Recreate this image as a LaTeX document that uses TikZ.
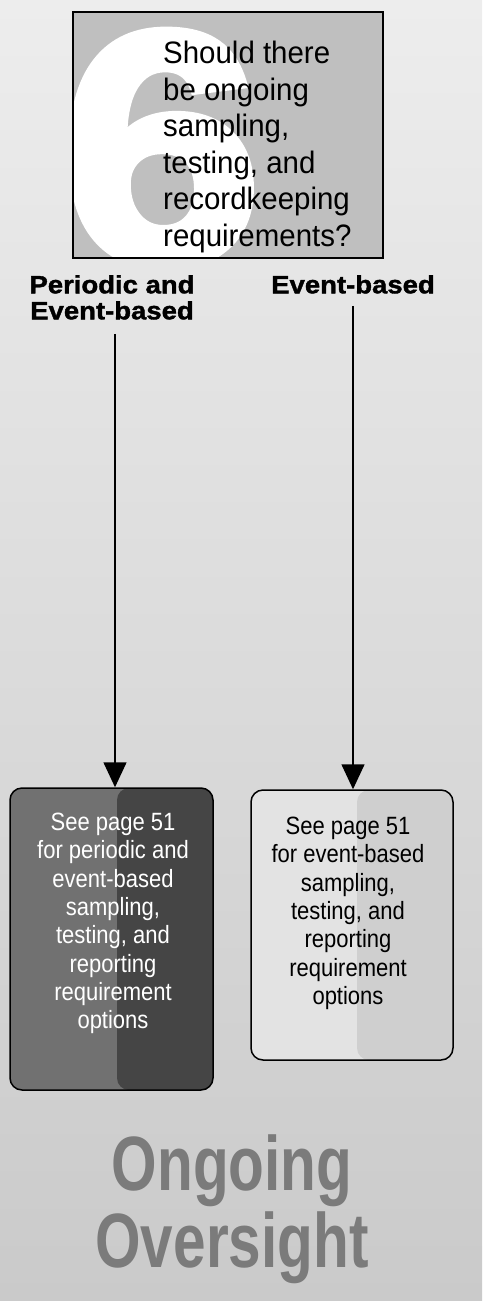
\documentclass[tikz,border=0pt]{standalone}
\usepackage{fontspec}
\setmainfont{Liberation Sans}
\newfontfamily\qfont[FakeStretch=0.95]{Liberation Sans}
\newfontfamily\boxfont[FakeStretch=0.88]{Liberation Sans}
\newfontfamily\headfont[FakeStretch=1.1,FakeBold=1.5]{Liberation Sans}
\newfontfamily\titlefont[FakeStretch=0.76]{Liberation Sans}
\newfontfamily\sixfont[FakeStretch=1.1,FakeBold=3]{Liberation Sans}
\usepackage{tikz}
\usetikzlibrary{arrows.meta,positioning}
\usepackage{xcolor}
\definecolor{bgtop}{HTML}{EDEDED}
\definecolor{bgmid}{HTML}{E0E0E0}
\definecolor{bgbot}{HTML}{CACACA}
\definecolor{qgray}{HTML}{BFBFBF}
\definecolor{pdlight}{HTML}{717171}
\definecolor{pddark}{HTML}{454545}
\definecolor{evlight}{HTML}{E3E3E3}
\definecolor{evdark}{HTML}{CFCFCF}
\definecolor{titlegray}{HTML}{7B7B7B}

\begin{document}
\begin{tikzpicture}[
  x=1pt, y=-1pt,
  qbox/.style={fill=qgray, minimum width=310pt, minimum height=246pt, inner sep=0pt},
  choice/.style={font=\headfont\bfseries\fontsize{25}{26}\selectfont,
                 align=center, inner sep=0pt, anchor=north},
  optbox/.style={draw, line width=1.5pt, rounded corners=12pt, inner sep=0pt},
  opttxt/.style={font=\boxfont\fontsize{25}{28.3}\selectfont, align=center,
                 inner sep=0pt, anchor=north},
  arr/.style={-{Triangle[length=25pt,width=23pt]}, line width=1.5pt}
]
% background
\shade[top color=bgtop, middle color=bgmid, bottom color=bgbot] (0,0) rectangle (482,1301);

% question 6
\node[qbox] (q) at (228,135) {};
\begin{scope}
  \clip (q.north west) rectangle (q.south east);
  \node[anchor=base west, inner sep=0pt, text=white,
        font=\sixfont\bfseries\fontsize{330}{330}\selectfont] (six) at (60,262) {6};
\end{scope}
\draw[line width=1.5pt] (q.north west) rectangle (q.south east);
\node[anchor=north west, align=left, inner sep=0pt,
      font=\qfont\fontsize{31}{36.5}\selectfont] (qtxt) at (163,41)
  {Should there\\be ongoing\\sampling,\\testing, and\\recordkeeping\\requirements?};

% answers
\node[choice] (both) at (112,275) {Periodic and\\Event-based};
\node[choice] (event) at (353,275) {Event-based};

\node[optbox, fill=pdlight, minimum width=203pt, minimum height=302pt,
      path picture={\fill[pddark] ([xshift=5.5pt]path picture bounding box.north)
        rectangle (path picture bounding box.south east);}] (pbox) at (111.5,939) {};
\node[opttxt, text=white] (ptxt) at (113,813)
  {See page 51\\for periodic and\\event-based\\sampling,\\testing, and\\reporting\\requirement\\options};

\node[optbox, fill=evlight, minimum width=202pt, minimum height=270pt,
      path picture={\fill[evdark] ([xshift=5pt]path picture bounding box.north)
        rectangle (path picture bounding box.south east);}] (ebox) at (352,925) {};
\node[opttxt] (etxt) at (348,817)
  {See page 51\\for event-based\\sampling,\\testing, and\\reporting\\requirement\\options};

\draw[arr, shorten <=14pt] ([xshift=3pt]both.south) -- ([xshift=3pt]both.south |- pbox.north);
\draw[arr, shorten <=12pt] (event.south) -- (event.south |- ebox.north);

% title
\node[anchor=north, align=center, inner sep=0pt, text=titlegray,
      font=\titlefont\bfseries\fontsize{77}{77}\selectfont] (title) at (232,1134)
  {Ongoing\\Oversight};
\end{tikzpicture}
\end{document}
